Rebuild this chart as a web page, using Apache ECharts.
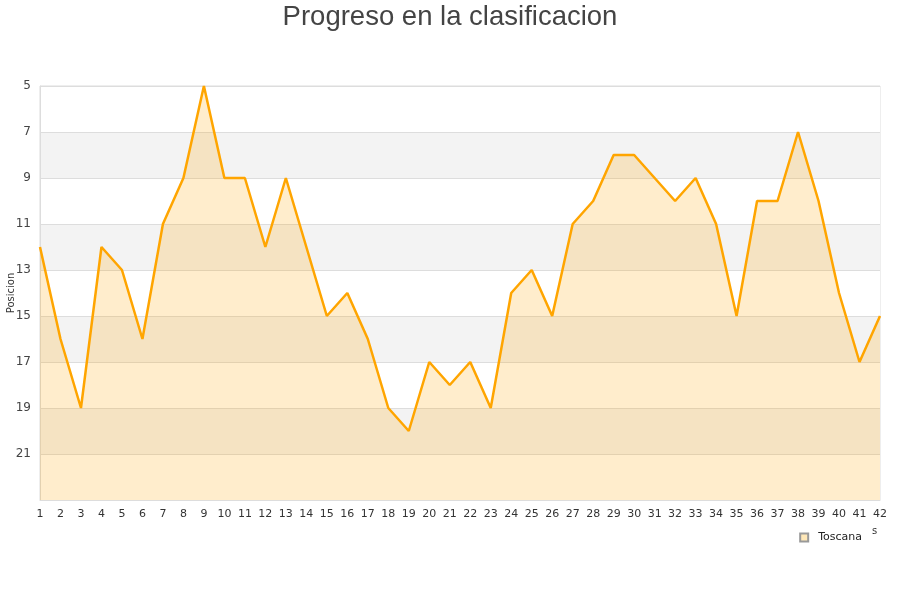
<!DOCTYPE html>
<html>
<head>
<meta charset="utf-8">
<script src="https://cdn.jsdelivr.net/npm/echarts@6/dist/echarts.min.js"></script>
<style>
  html, body {margin: 0; padding: 0; background: #fff;}
  #chart {width: 900px; height: 600px;}
</style>
</head>
<body>
<div id="chart"></div>
<script>
var jornadas = [];
for (var i = 1; i <= 42; i++) { jornadas.push(String(i)); }
var toscana = [12, 16, 19, 12, 13, 16, 11, 9, 5, 9, 9, 12, 9, 12, 15, 14, 16, 19, 20, 17,
               18, 17, 19, 14, 13, 15, 11, 10, 8, 8, 9, 10, 9, 11, 15, 10, 10, 7, 10, 14,
               17, 15];
var posMin = 5, posMax = 23, posStep = 2;

var chart = echarts.init(document.getElementById('chart'), null, {renderer: 'canvas'});
chart.setOption({
    animation: false,
    title: {
        text: 'Progreso en la clasificacion', left: 'center', top: -2,
        textStyle: {fontFamily: 'Liberation Sans', fontSize: 27.5, fontWeight: 'normal', color: '#444'}
    },
    legend: {
        data: ['Toscana'], right: 33, top: 527, itemWidth: 8, itemHeight: 8,
        icon: 'rect',
        textStyle: {fontFamily: 'DejaVu Sans', fontSize: 11, color: '#222', padding: [0, 0, 0, 5]}
    },
    graphic: [
        {type: 'text', left: 872, top: 526, style: {text: 's', fontFamily: 'DejaVu Sans', fontSize: 10, fill: '#333'}}
    ],
    grid: {left: 40, right: 20, top: 86, bottom: 100, outerBoundsMode: 'none', containLabel: false,
           show: true, borderColor: '#ddd', borderWidth: 1},
    xAxis: {
        type: 'category', data: jornadas, boundaryGap: false,
        axisLine: {lineStyle: {color: '#ddd'}}, axisTick: {show: false},
        axisLabel: {fontFamily: 'DejaVu Sans', fontSize: 11, color: '#333', interval: 0, margin: 9}
    },
    yAxis: {
        type: 'value', inverse: true, min: posMin, max: posMax, interval: posStep,
        name: 'Posicion', nameLocation: 'middle', nameGap: 24, nameMoveOverlap: false,
        nameTextStyle: {fontFamily: 'DejaVu Sans', fontSize: 10, color: '#333'},
        axisLine: {show: true, lineStyle: {color: '#ddd'}}, axisTick: {show: false},
        axisLabel: {
            fontFamily: 'DejaVu Sans', fontSize: 12, color: '#444', margin: 9,
            formatter: function (v) { return v === posMax ? '' : v; }
        },
        splitLine: {lineStyle: {color: '#ddd'}},
        splitArea: {show: true, areaStyle: {color: ['#ffffff', '#f3f3f3']}}
    },
    series: [{
        name: 'Toscana', type: 'line', data: toscana, symbol: 'none',
        lineStyle: {color: '#ffa500', width: 2.5},
        itemStyle: {color: '#ffe8b8', borderColor: '#999', borderWidth: 1},
        areaStyle: {color: 'rgba(255,165,0,0.2)', opacity: 1, origin: 'end'}
    }]
});
</script>
</body>
</html>
